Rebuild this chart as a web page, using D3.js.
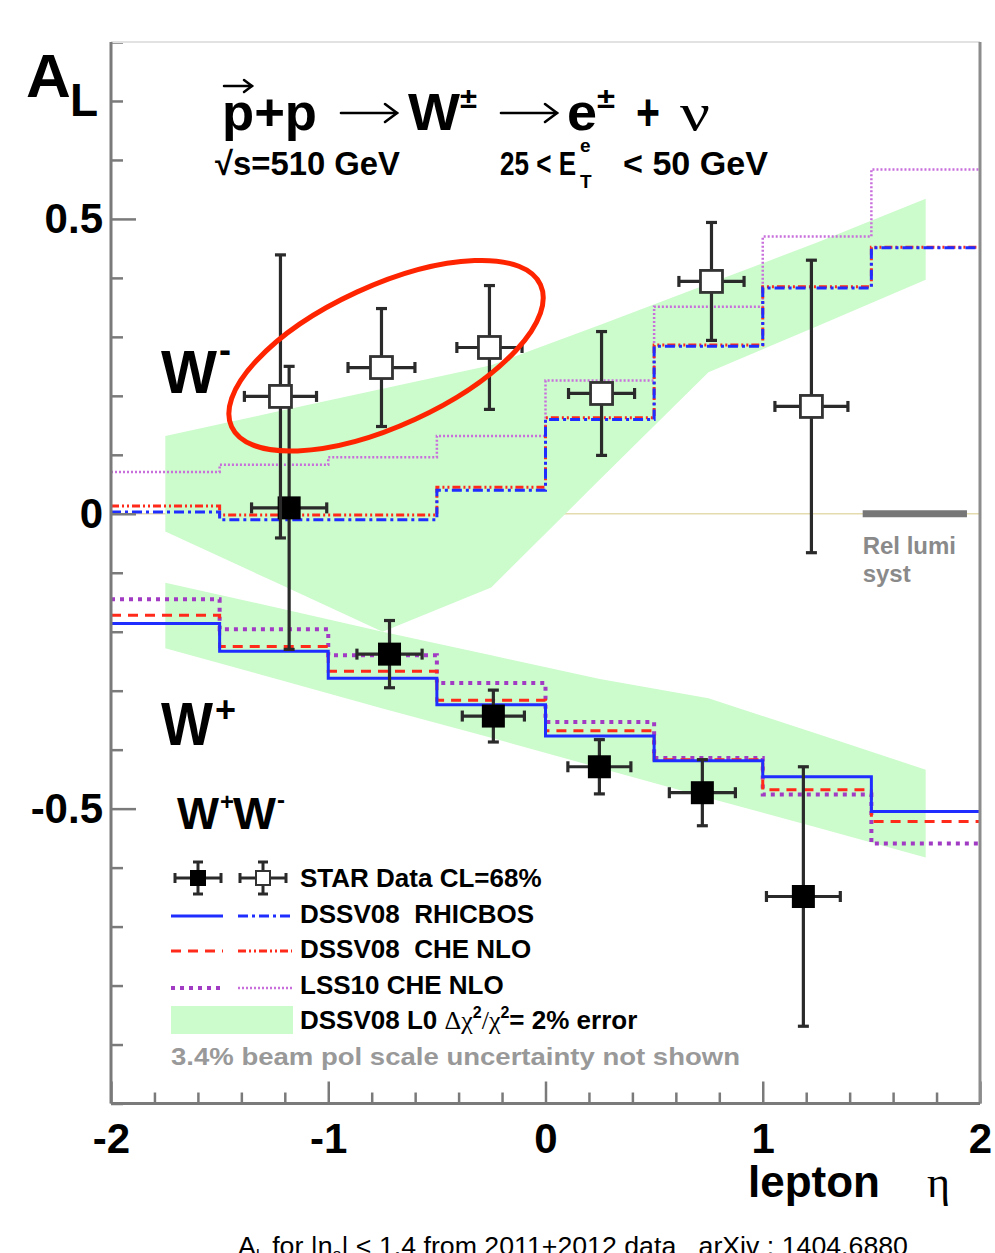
<!DOCTYPE html>
<html>
<head>
<meta charset="utf-8">
<script src="https://cdn.jsdelivr.net/npm/d3@7"></script>
<style>
  html, body { margin: 0; padding: 0; background: #fff; }
  svg { display: block; font-family: "Liberation Sans", Arial, Helvetica, sans-serif; }
  text { white-space: pre; }
</style>
</head>
<body>
<svg id="chart" width="995" height="1253"></svg>
<script>
// ---- eta binning of the theory curves ----
const binEdges = [-2, -1.5, -1, -0.5, 0, 0.5, 1, 1.5, 2];

// W- predictions, A_L per eta bin
const wmRhicbos = [0.003, -0.010, -0.010, 0.040, 0.160, 0.284, 0.383, 0.451];
const wmCheNlo  = [0.013, -0.002, -0.002, 0.045, 0.163, 0.286, 0.385, 0.452];
const wmLss10   = [0.071, 0.083, 0.096, 0.132, 0.226, 0.351, 0.470, 0.584];

// W+ predictions, A_L per eta bin
const wpRhicbos = [-0.186, -0.233, -0.279, -0.324, -0.377, -0.419, -0.446, -0.505];
const wpCheNlo  = [-0.172, -0.225, -0.267, -0.316, -0.368, -0.417, -0.468, -0.522];
const wpLss10   = [-0.145, -0.196, -0.240, -0.287, -0.353, -0.414, -0.476, -0.559];

// DSSV08 LO  delta chi2 / chi2 = 2% uncertainty bands
const bandEta  = [-1.75, -1.25, -0.75, -0.25, 0.25, 0.75, 1.25, 1.75];
const wmBandHi = [0.132, 0.172, 0.212, 0.252, 0.320, 0.390, 0.460, 0.534];
const wmBandLo = [-0.030, -0.115, -0.200, -0.125, 0.058, 0.240, 0.318, 0.397];
const wpBandHi = [-0.117, -0.158, -0.200, -0.240, -0.280, -0.313, -0.373, -0.434];
const wpBandLo = [-0.228, -0.279, -0.330, -0.380, -0.431, -0.482, -0.532, -0.583];

// STAR data, W- (open squares)
const wmEta    = [-1.22, -0.755, -0.258, 0.258, 0.764, 1.224];
const wmAL     = [0.199, 0.248, 0.282, 0.204, 0.394, 0.182];
const wmErr    = [0.240, 0.100, 0.105, 0.105, 0.100, 0.248];
const wmEtaErr = [0.166, 0.154, 0.150, 0.152, 0.150, 0.168];

// STAR data, W+ (filled squares)
const wpEta    = [-1.18, -0.718, -0.240, 0.248, 0.722, 1.187];
const wpAL     = [0.010, -0.238, -0.343, -0.429, -0.473, -0.649];
const wpErr    = [0.240, 0.057, 0.044, 0.046, 0.056, 0.220];
const wpEtaErr = [0.173, 0.150, 0.143, 0.145, 0.152, 0.170];

// relative luminosity systematic bar
const relLumiEta = [1.46, 1.94];
const relLumiAL = 0;

// axis ticks
const yMajorTicks = [-0.5, 0, 0.5];
const xMajorTicks = [-2, -1, 0, 1, 2];
const yTickLabels = ["-0.5", "0", "0.5"];
const xTickLabels = ["-2", "-1", "0", "1", "2"];

// highlighted region (W- backward points)
const highlightEta = -0.734;
const highlightAL = 0.268;

// ---------------------------------------------------------------
const svg = d3.select("#chart");
const x = d3.scaleLinear().domain([-2, 2]).range([111, 980]);
const y = d3.scaleLinear().domain([-1, 0.8]).range([1103.5, 42]);

const BLUE = "#1f2eff", RED = "#ff2a1a", PURPLE = "#a23bc4", PURPLE_L = "#c86fdc";
const GREEN = "#ccfbcc";

const styles = {
  wpRhicbos: { stroke: BLUE, width: 3, dash: null },
  wmRhicbos: { stroke: BLUE, width: 3, dash: "10,4,3,4" },
  wpChe:     { stroke: RED, width: 3, dash: "10,7" },
  wmChe:     { stroke: RED, width: 3, dash: "8,3,2,3,2,3" },
  wpLss:     { stroke: PURPLE, width: 4, dash: "4,5" },
  wmLss:     { stroke: PURPLE_L, width: 2.5, dash: "2,2" }
};

// zero reference line
svg.append("line")
  .attr("x1", x(-2)).attr("x2", x(2))
  .attr("y1", y(0)).attr("y2", y(0))
  .attr("stroke", "#e4dbae").attr("stroke-width", 1.5);

// uncertainty bands
const area = d3.area()
  .x(d => x(d.eta)).y0(d => y(d.lo)).y1(d => y(d.hi));
function band(hi, lo) { return bandEta.map((e, i) => ({ eta: e, hi: hi[i], lo: lo[i] })); }
svg.append("path").attr("d", area(band(wmBandHi, wmBandLo))).attr("fill", GREEN);
svg.append("path").attr("d", area(band(wpBandHi, wpBandLo))).attr("fill", GREEN);

// step-histogram predictions
const stepLine = d3.line().x(d => x(d[0])).y(d => y(d[1])).curve(d3.curveStepAfter);
function stepPoints(vals) {
  const p = vals.map((v, i) => [binEdges[i], v]);
  p.push([binEdges[binEdges.length - 1], vals[vals.length - 1]]);
  return p;
}
function drawStep(vals, st) {
  svg.append("path")
    .attr("d", stepLine(stepPoints(vals)))
    .attr("fill", "none")
    .attr("stroke", st.stroke)
    .attr("stroke-width", st.width)
    .attr("stroke-dasharray", st.dash);
}
drawStep(wmLss10, styles.wmLss);
drawStep(wmCheNlo, styles.wmChe);
drawStep(wmRhicbos, styles.wmRhicbos);
drawStep(wpLss10, styles.wpLss);
drawStep(wpCheNlo, styles.wpChe);
drawStep(wpRhicbos, styles.wpRhicbos);

// relative luminosity systematic
svg.append("line")
  .attr("x1", x(relLumiEta[0])).attr("x2", x(relLumiEta[1]))
  .attr("y1", y(relLumiAL)).attr("y2", y(relLumiAL))
  .attr("stroke", "#777").attr("stroke-width", 7);
svg.append("text").attr("x", x(relLumiEta[0])).attr("y", y(relLumiAL) + 40)
  .attr("font-size", 24).attr("font-weight", "bold").attr("fill", "#8a8a8a").text("Rel lumi");
svg.append("text").attr("x", x(relLumiEta[0])).attr("y", y(relLumiAL) + 68)
  .attr("font-size", 24).attr("font-weight", "bold").attr("fill", "#8a8a8a").text("syst");

// data points with error bars
const ERR_COL = "#2a2a2a", CAP = 11;
function drawPoints(etas, vals, errs, etaErrs, filled) {
  const g = svg.append("g");
  etas.forEach((e, i) => {
    const cx = x(e), cy = y(vals[i]);
    const y1 = y(vals[i] + errs[i]), y2 = y(vals[i] - errs[i]);
    const x1 = x(e - etaErrs[i]), x2 = x(e + etaErrs[i]);
    const segs = [
      [cx, y1, cx, y2], [x1, cy, x2, cy],
      [cx - CAP / 2, y1, cx + CAP / 2, y1], [cx - CAP / 2, y2, cx + CAP / 2, y2],
      [x1, cy - CAP / 2, x1, cy + CAP / 2], [x2, cy - CAP / 2, x2, cy + CAP / 2]
    ];
    segs.forEach(s => g.append("line")
      .attr("x1", s[0]).attr("y1", s[1]).attr("x2", s[2]).attr("y2", s[3])
      .attr("stroke", ERR_COL).attr("stroke-width", 3.2));
    if (filled) {
      g.append("rect").attr("x", cx - 11.5).attr("y", cy - 11.5)
        .attr("width", 23).attr("height", 23).attr("fill", "#000");
    } else {
      g.append("rect").attr("x", cx - 11).attr("y", cy - 11)
        .attr("width", 22).attr("height", 22)
        .attr("fill", "#fff").attr("stroke", "#333").attr("stroke-width", 2.8);
    }
  });
}
drawPoints(wpEta, wpAL, wpErr, wpEtaErr, true);
drawPoints(wmEta, wmAL, wmErr, wmEtaErr, false);

// ---- axes ----
const AX_COL = "#7a7a7a";
const yMinor = d3.range(-10, 9).map(i => i / 10).filter(v => !yMajorTicks.includes(v));
const xMinor = d3.range(-20, 21, 2).map(i => i / 10).filter(v => !xMajorTicks.includes(v));

function styleAxis(g) {
  g.select(".domain").remove();
  g.selectAll(".tick line").attr("stroke", AX_COL).attr("stroke-width", 2.5);
}
svg.append("g").attr("transform", `translate(${x(-2)},0)`)
  .call(d3.axisLeft(y).tickValues(yMinor).tickSize(-12).tickFormat(""))
  .call(styleAxis);
const yAx = svg.append("g").attr("transform", `translate(${x(-2)},0)`)
  .call(d3.axisLeft(y).tickValues(yMajorTicks).tickSize(-25).tickPadding(8)
    .tickFormat((d, i) => yTickLabels[i]))
  .call(styleAxis);
yAx.selectAll("text").attr("font-size", 42).attr("font-weight", "bold")
  .attr("fill", "#000").attr("font-family", "Liberation Sans, Arial, sans-serif");

svg.append("g").attr("transform", `translate(0,${y(-1)})`)
  .call(d3.axisBottom(x).tickValues(xMinor).tickSize(-11).tickFormat(""))
  .call(styleAxis);
const xAx = svg.append("g").attr("transform", `translate(0,${y(-1)})`)
  .call(d3.axisBottom(x).tickValues(xMajorTicks).tickSize(-22).tickPadding(20)
    .tickFormat((d, i) => xTickLabels[i]))
  .call(styleAxis);
xAx.selectAll("text").attr("font-size", 42).attr("font-weight", "bold")
  .attr("fill", "#000").attr("font-family", "Liberation Sans, Arial, sans-serif");

// frame
svg.append("line").attr("x1", x(-2)).attr("x2", x(2)).attr("y1", y(0.8)).attr("y2", y(0.8))
  .attr("stroke", "#e2e2e2").attr("stroke-width", 2);
svg.append("line").attr("x1", x(2)).attr("x2", x(2)).attr("y1", y(0.8)).attr("y2", y(-1))
  .attr("stroke", "#8c8c8c").attr("stroke-width", 3);
svg.append("line").attr("x1", x(-2)).attr("x2", x(2)).attr("y1", y(-1)).attr("y2", y(-1))
  .attr("stroke", AX_COL).attr("stroke-width", 3);
svg.append("line").attr("x1", x(-2)).attr("x2", x(-2)).attr("y1", y(0.8)).attr("y2", y(-1))
  .attr("stroke", AX_COL).attr("stroke-width", 3);

// axis titles
svg.append("text").attr("x", 26).attr("y", 97).attr("font-size", 62)
  .attr("font-weight", "bold").text("A");
svg.append("text").attr("x", 70).attr("y", 116).attr("font-size", 46)
  .attr("font-weight", "bold").text("L");
svg.append("text").attr("x", 748).attr("y", 1197).attr("font-size", 44)
  .attr("font-weight", "bold").text("lepton");
svg.append("text").attr("x", 927).attr("y", 1197).attr("font-size", 44)
  .attr("font-family", "Liberation Serif, serif").text("η");

// ---- process title ----
function piece(px, py, str, size, opts = {}) {
  const t = svg.append("text").attr("x", px).attr("y", py)
    .attr("font-size", size).attr("font-weight", opts.bold ? "bold" : "normal")
    .attr("fill", opts.fill || "#000").text(str);
  if (opts.family) t.attr("font-family", opts.family);
  if (opts.len) t.attr("textLength", opts.len).attr("lengthAdjust", "spacingAndGlyphs");
  return t;
}
function arrow(x1, x2, ay, head, w) {
  const g = svg.append("g").attr("stroke", "#000").attr("stroke-width", w)
    .attr("fill", "none").attr("stroke-linecap", "round");
  g.append("line").attr("x1", x1).attr("x2", x2).attr("y1", ay).attr("y2", ay);
  g.append("path").attr("d", `M${x2 - head},${ay - head * 0.75} L${x2},${ay} L${x2 - head},${ay + head * 0.75}`);
}
piece(222, 130, "p+p", 52, { bold: true, len: 95 });
arrow(224, 252, 86, 8, 2.5);
arrow(341, 397, 113, 12, 2.6);
piece(408, 130, "W", 52, { bold: true, len: 52 });
piece(460, 108, "±", 30, { bold: true, len: 17 });
arrow(501, 557, 113, 12, 2.6);
piece(567, 130, "e", 52, { bold: true, len: 30 });
piece(597, 108, "±", 30, { bold: true, len: 18 });
piece(636, 130, "+", 52, { bold: true, len: 24 });
piece(680, 130, "ν", 52, { family: "Liberation Serif, serif", len: 30 });

piece(215, 175, "√s=510 GeV", 33, { bold: true, len: 185 });
piece(500, 175, "25 < E", 33, { bold: true, len: 76 });
piece(580, 152, "e", 19, { bold: true });
piece(580, 188, "T", 19, { bold: true });
piece(623, 175, "< 50 GeV", 33, { bold: true, len: 145 });

// ---- W labels ----
piece(161, 393, "W", 62, { bold: true, len: 56 });
piece(219, 362, "-", 36, { bold: true });
piece(161, 745, "W", 62, { bold: true, len: 52 });
piece(215, 722, "+", 36, { bold: true });
piece(177, 829, "W", 44, { bold: true, len: 42 });
piece(220, 810, "+", 24, { bold: true });
piece(233, 829, "W", 44, { bold: true, len: 43 });
piece(277, 808, "-", 24, { bold: true });

// ---- legend ----
const legX = 300;
function legPoint(cx, cy, filled) {
  const g = svg.append("g").attr("stroke", ERR_COL).attr("stroke-width", 3);
  g.append("line").attr("x1", cx - 23).attr("x2", cx + 23).attr("y1", cy).attr("y2", cy);
  g.append("line").attr("x1", cx).attr("x2", cx).attr("y1", cy - 16).attr("y2", cy + 16);
  g.append("line").attr("x1", cx - 23).attr("x2", cx - 23).attr("y1", cy - 5).attr("y2", cy + 5);
  g.append("line").attr("x1", cx + 23).attr("x2", cx + 23).attr("y1", cy - 5).attr("y2", cy + 5);
  g.append("line").attr("x1", cx - 5).attr("x2", cx + 5).attr("y1", cy - 16).attr("y2", cy - 16);
  g.append("line").attr("x1", cx - 5).attr("x2", cx + 5).attr("y1", cy + 16).attr("y2", cy + 16);
  if (filled) g.append("rect").attr("x", cx - 8).attr("y", cy - 8).attr("width", 16).attr("height", 16)
    .attr("fill", "#000").attr("stroke", "none");
  else g.append("rect").attr("x", cx - 7).attr("y", cy - 7).attr("width", 14).attr("height", 14)
    .attr("fill", "#fff").attr("stroke", "#333").attr("stroke-width", 2);
}
function legLine(x1, x2, ly, st) {
  svg.append("line").attr("x1", x1).attr("x2", x2).attr("y1", ly).attr("y2", ly)
    .attr("stroke", st.stroke).attr("stroke-width", st.width).attr("stroke-dasharray", st.dash);
}
legPoint(198, 878, true);
legPoint(263, 878, false);
piece(legX, 887, "STAR Data CL=68%", 26, { bold: true });

legLine(171, 223, 916, styles.wpRhicbos);
legLine(238, 292, 916, styles.wmRhicbos);
piece(legX, 923, "DSSV08  RHICBOS", 26, { bold: true });

legLine(171, 223, 951, styles.wpChe);
legLine(238, 292, 951, styles.wmChe);
piece(legX, 958, "DSSV08  CHE NLO", 26, { bold: true });

legLine(171, 223, 988, styles.wpLss);
legLine(238, 292, 988, styles.wmLss);
piece(legX, 994, "LSS10 CHE NLO", 26, { bold: true });

svg.append("rect").attr("x", 171).attr("y", 1006).attr("width", 122).attr("height", 28).attr("fill", GREEN);
const t5 = svg.append("text").attr("x", legX).attr("y", 1029).attr("font-size", 26);
t5.append("tspan").attr("font-weight", "bold").text("DSSV08 L0 ");
t5.append("tspan").attr("font-family", "Liberation Serif, serif").text("Δχ");
t5.append("tspan").attr("font-size", 16).attr("dy", -11).attr("font-weight", "bold").text("2");
t5.append("tspan").attr("dy", 11).attr("font-family", "Liberation Serif, serif").text("/χ");
t5.append("tspan").attr("font-size", 16).attr("dy", -11).attr("font-weight", "bold").text("2");
t5.append("tspan").attr("dy", 11).attr("font-weight", "bold").text("= 2% error");

piece(171, 1065, "3.4% beam pol scale uncertainty not shown", 24, { bold: true, fill: "#999", len: 569 });

// ---- highlight ellipse ----
svg.append("ellipse")
  .attr("cx", 0).attr("cy", 0).attr("rx", 170).attr("ry", 70)
  .attr("transform", `translate(${x(highlightEta)},${y(highlightAL)}) rotate(-24.7)`)
  .attr("fill", "none").attr("stroke", "#ff2400").attr("stroke-width", 5);

// ---- caption (runs off the bottom edge of the page) ----
const cap = svg.append("text").attr("x", 238).attr("y", 1255).attr("font-size", 25)
  .attr("font-family", "Liberation Sans Narrow, Arial Narrow, sans-serif")
  .attr("textLength", 670).attr("lengthAdjust", "spacingAndGlyphs");
cap.append("tspan").text("A");
cap.append("tspan").attr("font-size", 15).attr("dy", 4).text("L");
cap.append("tspan").attr("dy", -4).text(" for |η");
cap.append("tspan").attr("font-size", 15).attr("dy", 4).text("e");
cap.append("tspan").attr("dy", -4).text("| < 1.4 from 2011+2012 data   arXiv : 1404.6880");
</script>
</body>
</html>
